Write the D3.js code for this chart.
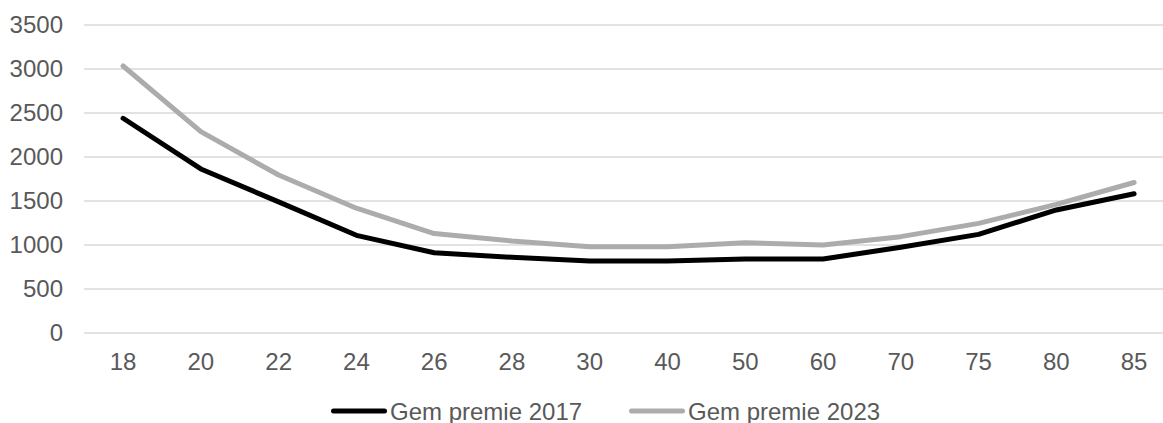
<!DOCTYPE html>
<html>
<head>
<meta charset="utf-8">
<script src="https://cdn.jsdelivr.net/npm/d3@7"></script>
<style>
  html, body { margin: 0; padding: 0; background: #ffffff; }
  svg { display: block; font-family: "Liberation Sans", Arial, sans-serif; }
</style>
</head>
<body>
<svg id="chart" width="1163" height="423"></svg>
<script>
// Age categories along the x axis
const ages = ["18", "20", "22", "24", "26", "28", "30", "40", "50", "60", "70", "75", "80", "85"];
// Average premium per age
const premie2017 = [2440, 1864, 1490, 1110, 912, 860, 818, 818, 841, 841, 974, 1121, 1398, 1583];
const premie2023 = [3034, 2288, 1795, 1418, 1130, 1045, 981, 981, 1026, 1000, 1095, 1246, 1462, 1710];
// Value axis ticks
const yTicks = [0, 500, 1000, 1500, 2000, 2500, 3000, 3500];
const seriesNames = ["Gem premie 2017", "Gem premie 2023"];

(function () {
  const series = [
    { name: seriesNames[0], values: premie2017, color: "#000000" },
    { name: seriesNames[1], values: premie2023, color: "#AEABAB" }
  ];

  const svg = d3.select("#chart");
  const plotLeft = 84.2, plotRight = 1173, plotTop = 25, plotBottom = 333;
  const fontSize = "24px";

  const x = d3.scaleBand().domain(ages).range([plotLeft, plotRight]);
  const y = d3.scaleLinear().domain([0, 3500]).range([plotBottom, plotTop]);
  const textColor = "#595959";

  // Horizontal gridlines
  svg.append("g")
    .selectAll("line")
    .data(yTicks)
    .join("line")
    .attr("x1", plotLeft).attr("x2", plotRight)
    .attr("y1", d => y(d)).attr("y2", d => y(d))
    .attr("stroke", "#D9D9D9")
    .attr("stroke-width", 1.4);

  // Y axis labels
  const yAxis = svg.append("g")
    .attr("transform", "translate(63,0)")
    .call(d3.axisLeft(y).tickValues(yTicks).tickFormat(d3.format("d")).tickSize(0).tickPadding(0));
  yAxis.select(".domain").remove();
  yAxis.selectAll("text")
    .attr("fill", textColor)
    .style("font-size", fontSize)
    .style("font-family", "'Liberation Sans', Arial, sans-serif");

  // X axis labels
  const xAxis = svg.append("g")
    .attr("transform", `translate(0,${plotBottom + 20})`)
    .call(d3.axisBottom(x).tickSize(0).tickPadding(0));
  xAxis.select(".domain").remove();
  xAxis.selectAll("text")
    .attr("fill", textColor)
    .style("font-size", fontSize)
    .style("font-family", "'Liberation Sans', Arial, sans-serif");

  // Lines
  const line = d3.line()
    .x((d, i) => x(ages[i]) + x.bandwidth() / 2)
    .y(d => y(d));

  svg.append("g")
    .selectAll("path")
    .data(series)
    .join("path")
    .attr("d", d => line(d.values))
    .attr("fill", "none")
    .attr("stroke", d => d.color)
    .attr("stroke-width", 5)
    .attr("stroke-linejoin", "round")
    .attr("stroke-linecap", "round");

  // Legend
  const legendX = [333.5, 631.5];
  const legend = svg.append("g")
    .selectAll("g")
    .data(series)
    .join("g")
    .attr("transform", (d, i) => `translate(${legendX[i]},411)`);
  legend.append("line")
    .attr("x1", 0).attr("x2", 51)
    .attr("y1", 0).attr("y2", 0)
    .attr("stroke", d => d.color)
    .attr("stroke-width", 5)
    .attr("stroke-linecap", "round");
  legend.append("text")
    .attr("x", 56.5)
    .attr("y", 8.5)
    .attr("fill", textColor)
    .style("font-size", fontSize)
    .text(d => d.name);
})();
</script>
</body>
</html>
